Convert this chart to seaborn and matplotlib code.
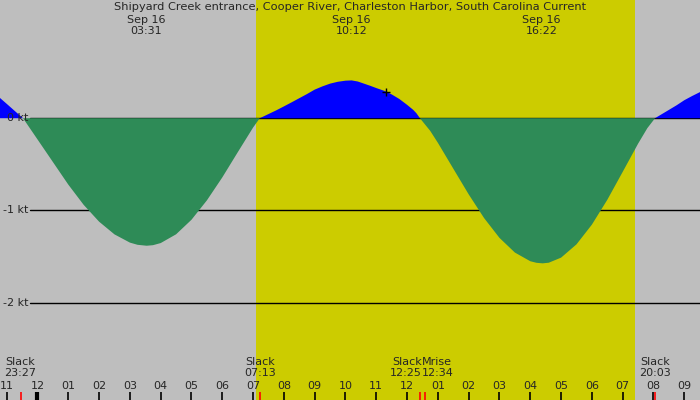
import matplotlib
matplotlib.use('Agg')
import matplotlib.pyplot as plt
import pandas as pd
import seaborn as sns

sns.set_style('white')
plt.rcParams['font.family'] = ['DejaVu Sans']

# tidal current: hours from midnight Sep 16, speed in knots
hours = [-1.22, -1.0, -0.75, -0.47,
         0.0, 0.5, 1.0, 1.5, 2.0, 2.5, 3.0, 3.25, 3.545, 3.75, 4.0, 4.5,
         5.0, 5.5, 6.0, 6.5, 7.0, 7.217,
         7.5, 7.75, 8.0, 8.25, 8.5, 8.75, 9.0, 9.25, 9.5, 9.75, 10.0, 10.2,
         10.4, 10.6, 10.8, 11.0, 11.25, 11.5, 11.75, 12.0, 12.2, 12.3, 12.417,
         12.75, 13.0, 13.5, 14.0, 14.5, 15.0, 15.5, 16.0, 16.2, 16.4, 16.6,
         17.0, 17.5, 18.0, 18.5, 19.0, 19.5, 19.8, 20.05,
         20.25, 20.5, 20.75, 21.0, 21.25, 21.52]
speed = [0.22, 0.156, 0.082, 0.0,
         -0.23, -0.475, -0.72, -0.94, -1.122, -1.26, -1.349, -1.373, -1.383,
         -1.377, -1.354, -1.259, -1.101, -0.891, -0.642, -0.370, -0.101, 0.0,
         0.045, 0.085, 0.128, 0.172, 0.217, 0.262, 0.31, 0.345, 0.375, 0.395,
         0.407, 0.41, 0.398, 0.375, 0.352, 0.327, 0.298, 0.258, 0.208, 0.145,
         0.09, 0.055, 0.0,
         -0.137, -0.267, -0.547, -0.826, -1.083, -1.298, -1.457, -1.551, -1.568,
         -1.574, -1.567, -1.512, -1.368, -1.154, -0.885, -0.582, -0.276, -0.108,
         0.0,
         0.04, 0.09, 0.14, 0.195, 0.24, 0.285]

title = 'Shipyard Creek entrance, Cooper River, Charleston Harbor, South Carolina Current'
day_start, day_end = 7.09, 19.40
peak_hours = [3.52, 10.2, 16.37]
peak_labels = ['Sep 16\n03:31', 'Sep 16\n10:12', 'Sep 16\n16:22']
event_hours = [-0.55, 7.22, 12.42, 12.57, 20.05]
event_labels = ['Slack\n23:27', 'Slack\n07:13', 'Slack\n12:25', 'Mrise\n12:34', 'Slack\n20:03']
tick_hours = list(range(-1, 22))
tick_labels = ['11', '12', '01', '02', '03', '04', '05', '06', '07', '08', '09', '10',
               '11', '12', '01', '02', '03', '04', '05', '06', '07', '08', '09']
levels = [0, -1, -2]
now_hour, now_speed = 11.31, 0.28

df = pd.DataFrame({'hour': hours, 'speed': speed})

fig = plt.figure(figsize=(7, 4), dpi=100)
ax = fig.add_axes([0, 0, 1, 1])
ax.set_xlim(-1.2175, 21.51)
ax.set_ylim(-3.056, 1.282)
ax.set_facecolor('#bebebe')
ax.set_xticks([])
ax.set_yticks([])
for s in ax.spines.values():
    s.set_visible(False)

ax.axvspan(day_start, day_end, color='#cccc00', lw=0, zorder=0)
for lv in levels:
    ax.axhline(lv, xmin=30 / 700, color='black', lw=1.0, zorder=1)
    ax.text(-0.30, lv, f'{lv} kt', ha='right', va='center', fontsize=8, zorder=5)

ax.fill_between(df.hour, df.speed, 0, where=df.speed >= 0, interpolate=True,
                color='#0000ff', lw=0, zorder=2)
ax.fill_between(df.hour, df.speed, 0, where=df.speed <= 0, interpolate=True,
                color='#2e8b57', lw=0, zorder=2)
sns.scatterplot(x=[now_hour], y=[now_speed], marker='+', color='black', s=30,
                linewidth=1, zorder=4, ax=ax)

ax.text(0.5, 1 - 7.5 / 400, title, transform=ax.transAxes, ha='center', va='center',
        fontsize=8.2)
tr = ax.get_xaxis_transform()
for h, lab in zip(peak_hours, peak_labels):
    ax.text(h, 1 - 25.6 / 400, lab, transform=tr, ha='center', va='center',
            fontsize=8, linespacing=1.1)

for h, lab in zip(event_hours, event_labels):
    ha = 'center'
    x = h
    if lab.startswith('Slack\n12'):
        ha, x = 'right', 12.49
    elif lab.startswith('Mrise'):
        ha, x = 'left', 12.49
    ax.text(x, 1 - 367.3 / 400, lab, transform=tr, ha=ha, va='center',
            fontsize=8, linespacing=1.05)
    ax.vlines(h, 0, 0.02, transform=tr, color='red', lw=1.2, zorder=5)

for h, lab in zip(tick_hours, tick_labels):
    ax.text(h, 1 - 385.7 / 400, lab, transform=tr, ha='center', va='center', fontsize=8)
    ax.vlines(h, 0, 0.02, transform=tr, color='black',
              lw=3 if h == 0 else 1.2, zorder=5)

fig.savefig('out.png', dpi=100)
